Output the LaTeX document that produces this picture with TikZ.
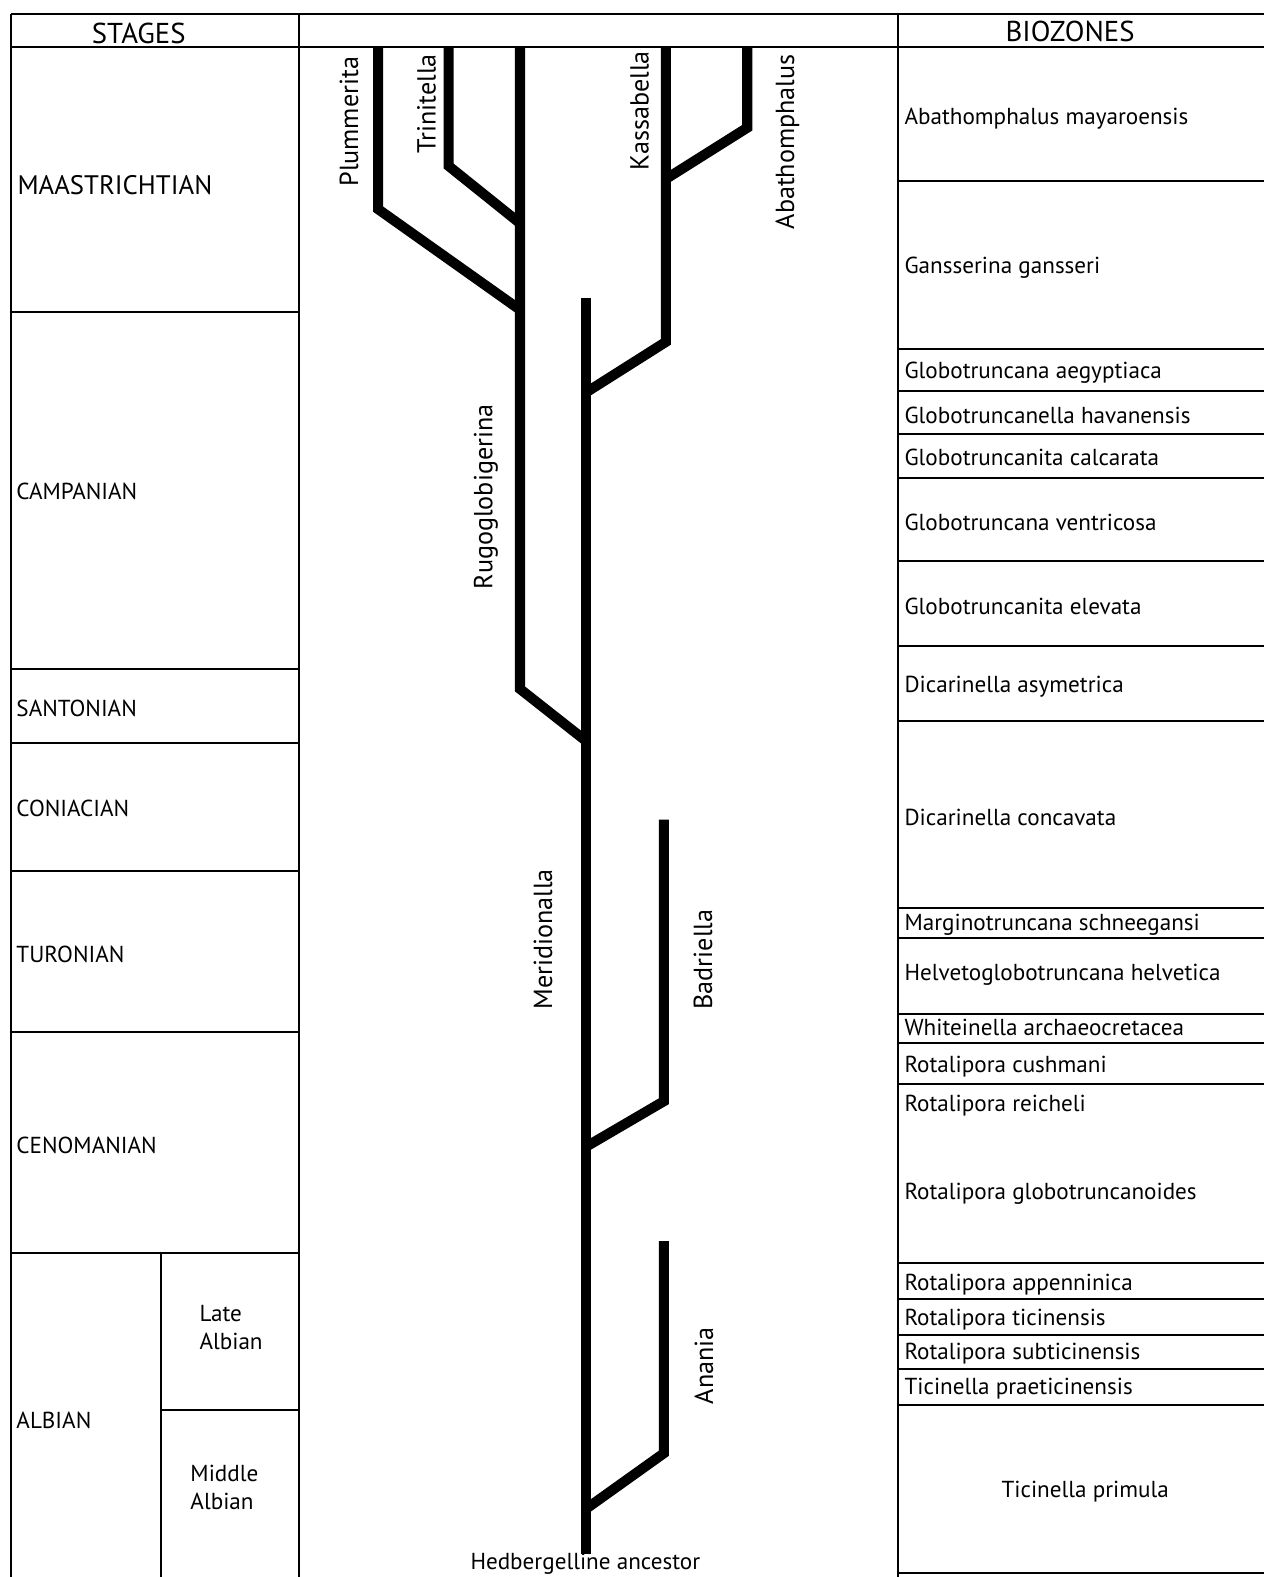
\documentclass[tikz,border=0pt]{standalone}
\usepackage{fontspec}
\setmainfont{PT Sans}
\begin{document}
\begin{tikzpicture}[x=0.5pt,y=-0.5pt,
  frame/.style={line width=1pt},
  branch/.style={line width=5pt,line join=miter,line cap=butt},
  stg/.style={anchor=west,inner sep=0pt,font=\fontsize{11.5}{14}\selectfont},
  zone/.style={anchor=west,inner sep=0pt,font=\fontsize{11.5}{14}\selectfont},
  hdr/.style={inner sep=0pt,font=\fontsize{14.3}{16}\selectfont},
  taxon/.style={rotate=90,inner sep=0pt,font=\fontsize{13}{15}\selectfont}]
\useasboundingbox (0,0) rectangle (1257,1568);
% ---- frame ----
\draw[frame] (11,14) -- (1257,14);
\draw[frame] (11,47) -- (1257,47);
\draw[frame] (11,14) -- (11,1568);
\draw[frame] (297,14) -- (297,1568);
\draw[frame] (893,14) -- (893,1568);
\draw[frame] (160,1246) -- (160,1568);
\draw[frame] (160,1402) -- (297,1402);
\foreach \yy in {310,665,739,866,1026,1246} \draw[frame] (11,\yy) -- (297,\yy);
\foreach \yy in {180,347,389,432,475,558,642,717,903,933,1008,1037,1078,1256,1292,1327,1361,1397,1564}
  \draw[frame] (893,\yy) -- (1257,\yy);
% ---- headers ----
\node[hdr] (hstages) at (138,33) {STAGES};
\node[hdr] (hzones) at (1064,31) {BIOZONES};
% ---- stages ----
\node[stg,font=\fontsize{13.3}{15}\selectfont] (maa) at (17,184) {MAASTRICHTIAN};
\node[stg] (cam) at (16,489) {CAMPANIAN};
\node[stg] (san) at (16,704) {SANTONIAN};
\node[stg] (con) at (16,804) {CONIACIAN};
\node[stg] (tur) at (16,949) {TURONIAN};
\node[stg] (cen) at (16,1139) {CENOMANIAN};
\node[stg] (alb) at (16,1412) {ALBIAN};
\node[stg,align=left] (lalb) at (198,1320) {Late\\Albian};
\node[stg,align=left] (malb) at (189,1479) {Middle\\Albian};
% ---- biozones ----
\node[zone] (z1) at (899,118) {Abathomphalus mayaroensis};
\node[zone] (z2) at (899,266) {Gansserina gansseri};
\node[zone] (z3) at (899,371) {Globotruncana aegyptiaca};
\node[zone] (z4) at (899,413) {Globotruncanella havanensis};
\node[zone] (z5) at (899,455) {Globotruncanita calcarata};
\node[zone] (z6) at (899,519) {Globotruncana ventricosa};
\node[zone] (z7) at (899,603) {Globotruncanita elevata};
\node[zone] (z8) at (899,683) {Dicarinella asymetrica};
\node[zone] (z9) at (899,813) {Dicarinella concavata};
\node[zone] (z10) at (899,919) {Marginotruncana schneegansi};
\node[zone] (z11) at (899,969) {Helvetoglobotruncana helvetica};
\node[zone] (z12) at (899,1022) {Whiteinella archaeocretacea};
\node[zone] (z13) at (899,1061) {Rotalipora cushmani};
\node[zone] (z14) at (899,1099) {Rotalipora reicheli};
\node[zone] (z15) at (899,1187) {Rotalipora globotruncanoides};
\node[zone] (z16) at (899,1277) {Rotalipora appenninica};
\node[zone] (z17) at (899,1312) {Rotalipora ticinensis};
\node[zone] (z18) at (899,1346) {Rotalipora subticinensis};
\node[zone] (z19) at (899,1381) {Ticinella praeticinensis};
\node[zone,anchor=center] (z20) at (1079,1483) {Ticinella primula};
% ---- tree coordinates ----
\coordinate (trunkTop) at (583,296);
\coordinate (trunkBot) at (583,1545);
\coordinate (rugTop) at (517,47);
\coordinate (rugBend) at (517,685);
\coordinate (rugJoin) at (583,737);
\coordinate (pluTop) at (376,47);
\coordinate (pluBend) at (376,208);
\coordinate (pluJoin) at (517,308);
\coordinate (triTop) at (446,47);
\coordinate (triBend) at (446,165);
\coordinate (triJoin) at (517,222);
\coordinate (kasTop) at (662,47);
\coordinate (kasBend) at (662,340);
\coordinate (kasJoin) at (583,390);
\coordinate (abaTop) at (743,47);
\coordinate (abaBend) at (743,127);
\coordinate (abaJoin) at (662,178);
\coordinate (badTop) at (660,815);
\coordinate (badBend) at (660,1095);
\coordinate (badJoin) at (583,1140);
\coordinate (anaTop) at (660,1234);
\coordinate (anaBend) at (660,1445);
\coordinate (anaJoin) at (583,1500);
% ---- branches ----
\draw[branch] (trunkTop) -- (trunkBot);
\draw[branch] (rugTop) -- (rugBend) -- (rugJoin);
\draw[branch] (pluTop) -- (pluBend) -- (pluJoin);
\draw[branch] (triTop) -- (triBend) -- (triJoin);
\draw[branch] (kasTop) -- (kasBend) -- (kasJoin);
\draw[branch] (abaTop) -- (abaBend) -- (abaJoin);
\draw[branch] (badTop) -- (badBend) -- (badJoin);
\draw[branch] (anaTop) -- (anaBend) -- (anaJoin);
% ---- taxon labels ----
\node[taxon] (lplu) at (347,121) {Plummerita};
\node[taxon] (ltri) at (424,103) {Trinitella};
\node[taxon] (lrug) at (483,494) {Rugoglobigerina};
\node[taxon] (lkas) at (636,110) {Kassabella};
\node[taxon] (laba) at (783,141) {Abathomphalus};
\node[taxon] (lmer) at (540,934) {Meridionalla};
\node[taxon] (lbad) at (699,954) {Badriella};
\node[taxon] (lana) at (700,1358) {Anania};
\node[stg,anchor=center] (lhed) at (582,1555) {Hedbergelline ancestor};
\end{tikzpicture}
\end{document}
